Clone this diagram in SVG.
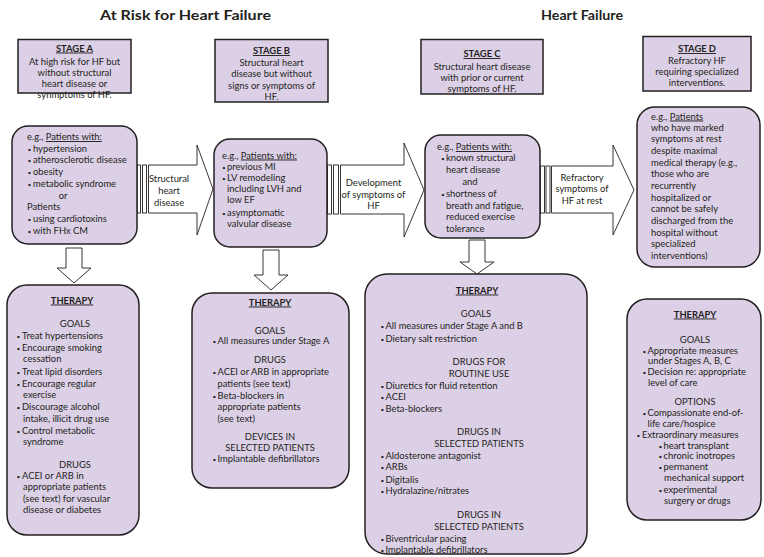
<svg xmlns="http://www.w3.org/2000/svg" width="764" height="557" viewBox="0 0 764 557">
<style>
.box{fill:#dcd0e6;stroke:#231f20;stroke-width:1.5}
.arr{fill:#fff;stroke:#231f20;stroke-width:0.9}
text{font-family:Lato,"Open Sans","Liberation Sans",sans-serif;font-size:9.4px;fill:#231f20}
.c{text-anchor:middle}
.h{font-weight:bold;text-decoration:underline}
.u{text-decoration:underline}
.t{font-size:14px;font-weight:bold}
.bl{font-size:6.5px}
</style>
<rect width="764" height="557" fill="#fff"/>
<g id="titles">
<text class="t" x="100" y="20" textLength="171" lengthAdjust="spacingAndGlyphs">At Risk for Heart Failure</text>
<text class="t" x="541" y="20" textLength="82" lengthAdjust="spacingAndGlyphs">Heart Failure</text>
</g>
<g id="connectors">
<rect class="arr" x="137" y="165" width="3.5" height="48"/>
<rect class="arr" x="142.5" y="165" width="4" height="48"/>
<polygon class="arr" points="148.5,165 197,165 197,145 213,189 197,235 197,213 148.5,213"/>
<rect class="arr" x="327.5" y="165" width="4" height="49"/>
<rect class="arr" x="333.5" y="165" width="5" height="49"/>
<polygon class="arr" points="340.5,165 404,165 404,143 424,190 404,237 404,214 340.5,214"/>
<rect class="arr" x="540.5" y="166" width="4" height="47"/>
<rect class="arr" x="546" y="166" width="4" height="47"/>
<polygon class="arr" points="551.5,166 613,166 613,145 634,190 613,235 613,213 551.5,213"/>
<polygon class="arr" points="66,248 82,248 82,268 91,268 74,283 57,268 66,268"/>
<polygon class="arr" points="263,250 279,250 279,275 288,275 271,290 254,275 263,275"/>
<polygon class="arr" points="469,240 485,240 485,262 494,262 477,274 460,262 469,262"/>
</g>
<g id="arrow-labels">
<text class="c" x="169" y="181.5">Structural</text>
<text class="c" x="169" y="193.5">heart</text>
<text class="c" x="169" y="205.5">disease</text>
<text class="c" x="373.5" y="186">Development</text>
<text class="c" x="373.5" y="197.5">of symptoms of</text>
<text class="c" x="373.5" y="209">HF</text>
<text class="c" x="582" y="180.5">Refractory</text>
<text class="c" x="582" y="192">symptoms of</text>
<text class="c" x="582" y="203.5">HF at rest</text>
</g>
<g id="stageA">
<rect class="box" x="18" y="39.5" width="113" height="53.5"/>
<text class="c h" x="74.5" y="51.5">STAGE A</text>
<text class="c" x="74.5" y="64.5">At high risk for HF but</text>
<text class="c" x="74.5" y="75.5">without structural</text>
<text class="c" x="74.5" y="86.5">heart disease or</text>
<text class="c" x="74.5" y="97.5">synmptoms of HF.</text>
</g>
<g id="stageB">
<rect class="box" x="215" y="39.5" width="113" height="62.5"/>
<text class="c h" x="271.5" y="54">STAGE B</text>
<text class="c" x="271.5" y="65.5">Structural heart</text>
<text class="c" x="271.5" y="77">disease but without</text>
<text class="c" x="271.5" y="88.5">signs or symptoms of</text>
<text class="c" x="271.5" y="99.5">HF.</text>
</g>
<g id="stageC">
<rect class="box" x="421" y="39.5" width="122" height="54.5"/>
<text class="c h" x="482" y="57">STAGE C</text>
<text class="c" x="482" y="70">Structural heart disease</text>
<text class="c" x="482" y="81">with prior or current</text>
<text class="c" x="482" y="92">symptoms of HF.</text>
</g>
<g id="stageD">
<rect class="box" x="643" y="36.5" width="108" height="54.5"/>
<text class="c h" x="697" y="52">STAGE D</text>
<text class="c" x="697" y="63.5">Refractory HF</text>
<text class="c" x="697" y="74.5">requiring specialized</text>
<text class="c" x="697" y="85.5">interventions.</text>
</g>
<g id="patientsA">
<rect class="box" x="12" y="126" width="125" height="118" rx="16"/>
<text x="27" y="140">e.g., <tspan class="u">Patients with:</tspan></text>
<text x="27.5" y="151.5"><tspan class="bl">•</tspan><tspan x="33">hypertension</tspan></text>
<text x="27.5" y="163"><tspan class="bl">•</tspan><tspan x="33">atherosclerotic disease</tspan></text>
<text x="27.5" y="175"><tspan class="bl">•</tspan><tspan x="33">obesity</tspan></text>
<text x="27.5" y="187"><tspan class="bl">•</tspan><tspan x="33">metabolic syndrome</tspan></text>
<text class="c" x="63" y="198.5">or</text>
<text x="27" y="210">Patients</text>
<text x="27.5" y="222"><tspan class="bl">•</tspan><tspan x="33">using cardiotoxins</tspan></text>
<text x="27.5" y="233.5"><tspan class="bl">•</tspan><tspan x="33">with FHx CM</tspan></text>
</g>
<g id="patientsB">
<rect class="box" x="214" y="139" width="113" height="108" rx="16"/>
<text x="222" y="158.5">e.g., <tspan class="u">Patients with:</tspan></text>
<text x="222" y="169.5"><tspan class="bl">•</tspan><tspan x="227">previous MI</tspan></text>
<text x="222" y="181"><tspan class="bl">•</tspan><tspan x="227">LV remodeling</tspan></text>
<text x="227" y="192">including LVH and</text>
<text x="227" y="203">low EF</text>
<text x="222" y="215.5"><tspan class="bl">•</tspan><tspan x="227">asymptomatic</tspan></text>
<text x="227" y="226.5">valvular disease</text>
</g>
<g id="patientsC">
<rect class="box" x="425" y="135" width="115" height="103" rx="16"/>
<text x="437" y="150">e.g., <tspan class="u">Patients with:</tspan></text>
<text x="441" y="161"><tspan class="bl">•</tspan><tspan x="446">known structural</tspan></text>
<text x="446" y="172.5">heart disease</text>
<text class="c" x="470" y="184.5">and</text>
<text x="441" y="196.5"><tspan class="bl">•</tspan><tspan x="446">shortness of</tspan></text>
<text x="446" y="208.5">breath and fatigue,</text>
<text x="446" y="220">reduced exercise</text>
<text x="446" y="231.5">tolerance</text>
</g>
<g id="patientsD">
<rect class="box" x="637" y="107" width="123" height="160" rx="18"/>
<text x="651" y="119.5">e.g., <tspan class="u">Patients</tspan></text>
<text x="651" y="130.5">who have marked</text>
<text x="651" y="141.5">symptoms at rest</text>
<text x="651" y="153.5">despite maximal</text>
<text x="651" y="165.5">medical therapy (e.g.,</text>
<text x="651" y="176.5">those who are</text>
<text x="651" y="188.5">recurrently</text>
<text x="651" y="200.5">hospitalized or</text>
<text x="651" y="211.5">cannot be safely</text>
<text x="651" y="223.5">discharged from the</text>
<text x="651" y="235.5">hospital without</text>
<text x="651" y="246.5">specialized</text>
<text x="651" y="258.5">interventions)</text>
</g>
<g id="therapyA">
<rect class="box" x="7" y="285" width="132" height="250" rx="20"/>
<text class="c h" x="72" y="303.5">THERAPY</text>
<text class="c" x="75" y="326.5">GOALS</text>
<text x="16.5" y="339"><tspan class="bl">•</tspan><tspan x="22">Treat hypertensions</tspan></text>
<text x="16.5" y="351"><tspan class="bl">•</tspan><tspan x="22">Encourage smoking</tspan></text>
<text x="23" y="362">cessation</text>
<text x="16.5" y="375"><tspan class="bl">•</tspan><tspan x="22">Treat lipid disorders</tspan></text>
<text x="16.5" y="387"><tspan class="bl">•</tspan><tspan x="22">Encourage regular</tspan></text>
<text x="23" y="397.5">exercise</text>
<text x="16.5" y="410"><tspan class="bl">•</tspan><tspan x="22">Discourage alcohol</tspan></text>
<text x="23" y="422">intake, illicit drug use</text>
<text x="16.5" y="434"><tspan class="bl">•</tspan><tspan x="22">Control metabolic</tspan></text>
<text x="23" y="445">syndrome</text>
<text class="c" x="75" y="467.5">DRUGS</text>
<text x="16.5" y="478.5"><tspan class="bl">•</tspan><tspan x="22">ACEI or ARB in</tspan></text>
<text x="23" y="490">appropriate patients</text>
<text x="23" y="502">(see text) for vascular</text>
<text x="23" y="513">disease or diabetes</text>
</g>
<g id="therapyB">
<rect class="box" x="192" y="293" width="157" height="195" rx="20"/>
<text class="c h" x="270" y="305.5">THERAPY</text>
<text class="c" x="270" y="333.5">GOALS</text>
<text x="212.5" y="344"><tspan class="bl">•</tspan><tspan x="217.5">All measures under Stage A</tspan></text>
<text class="c" x="270" y="363">DRUGS</text>
<text x="212.5" y="375"><tspan class="bl">•</tspan><tspan x="217.5">ACEI or ARB in appropriate</tspan></text>
<text x="217.5" y="387">patients (see text)</text>
<text x="212.5" y="398.5"><tspan class="bl">•</tspan><tspan x="217.5">Beta-blockers in</tspan></text>
<text x="217.5" y="410">appropriate patients</text>
<text x="217.5" y="422">(see text)</text>
<text class="c" x="270" y="440">DEVICES IN</text>
<text class="c" x="270" y="450.5">SELECTED PATIENTS</text>
<text x="212.5" y="462"><tspan class="bl">•</tspan><tspan x="217.5">Implantable defibrillators</tspan></text>
</g>
<g id="therapyC">
<rect class="box" x="365" y="274" width="222" height="280" rx="22"/>
<text class="c h" x="477" y="293.5">THERAPY</text>
<text class="c" x="476" y="317">GOALS</text>
<text x="380.5" y="328.5"><tspan class="bl">•</tspan><tspan x="385.5">All measures under Stage A and B</tspan></text>
<text x="380.5" y="342"><tspan class="bl">•</tspan><tspan x="385.5">Dietary salt restriction</tspan></text>
<text class="c" x="479" y="365">DRUGS FOR</text>
<text class="c" x="479" y="377">ROUTINE USE</text>
<text x="380.5" y="388.5"><tspan class="bl">•</tspan><tspan x="385.5">Diuretics for fluid retention</tspan></text>
<text x="380.5" y="400"><tspan class="bl">•</tspan><tspan x="385.5">ACEI</tspan></text>
<text x="380.5" y="412"><tspan class="bl">•</tspan><tspan x="385.5">Beta-blockers</tspan></text>
<text class="c" x="479" y="435">DRUGS IN</text>
<text class="c" x="479" y="447">SELECTED PATIENTS</text>
<text x="380.5" y="458.5"><tspan class="bl">•</tspan><tspan x="385.5">Aldosterone antagonist</tspan></text>
<text x="380.5" y="470"><tspan class="bl">•</tspan><tspan x="385.5">ARBs</tspan></text>
<text x="380.5" y="483"><tspan class="bl">•</tspan><tspan x="385.5">Digitalis</tspan></text>
<text x="380.5" y="494"><tspan class="bl">•</tspan><tspan x="385.5">Hydralazine/nitrates</tspan></text>
<text class="c" x="479" y="517.5">DRUGS IN</text>
<text class="c" x="479" y="529.5">SELECTED PATIENTS</text>
<text x="380.5" y="542"><tspan class="bl">•</tspan><tspan x="385.5">Biventricular pacing</tspan></text>
<text x="380.5" y="553"><tspan class="bl">•</tspan><tspan x="385.5">Implantable defibrillators</tspan></text>
</g>
<g id="therapyD">
<rect class="box" x="627" y="299" width="134" height="221" rx="20"/>
<text class="c h" x="695" y="317.5">THERAPY</text>
<text class="c" x="695" y="343">GOALS</text>
<text x="642.5" y="353.5"><tspan class="bl">•</tspan><tspan x="647.5">Appropriate measures</tspan></text>
<text x="648" y="364">under Stages A, B, C</text>
<text x="642.5" y="375"><tspan class="bl">•</tspan><tspan x="647.5">Decision re: appropriate</tspan></text>
<text x="648" y="386">level of care</text>
<text class="c" x="695" y="405">OPTIONS</text>
<text x="642.5" y="416"><tspan class="bl">•</tspan><tspan x="647.5">Compassionate end-of-</tspan></text>
<text x="647.5" y="427">life care/hospice</text>
<text x="636.5" y="438"><tspan class="bl">•</tspan><tspan x="642">Extraordinary measures</tspan></text>
<text x="658.5" y="448.5"><tspan class="bl">•</tspan><tspan x="663.5">heart transplant</tspan></text>
<text x="658.5" y="459"><tspan class="bl">•</tspan><tspan x="663.5">chronic inotropes</tspan></text>
<text x="658.5" y="470"><tspan class="bl">•</tspan><tspan x="663.5">permanent</tspan></text>
<text x="664" y="481">mechanical support</text>
<text x="658.5" y="492.5"><tspan class="bl">•</tspan><tspan x="663.5">experimental</tspan></text>
<text x="664" y="503.5">surgery or drugs</text>
</g>
</svg>
